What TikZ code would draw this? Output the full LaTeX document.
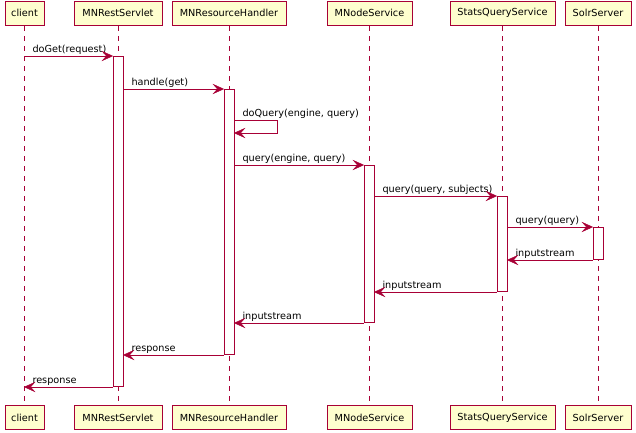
\documentclass[tikz,border=0pt]{standalone}
\usepackage{fontspec}
\setmainfont{DejaVu Sans}
\usetikzlibrary{calc}
\definecolor{pline}{HTML}{A80036}
\definecolor{pfill}{HTML}{FEFECE}
\tikzset{
  pbox/.style={draw=pline, fill=pfill, line width=1pt, minimum height=24.5pt, inner sep=0pt, font=\fontsize{9.7}{11}\selectfont},
  lifeline/.style={draw=pline, line width=1pt, dash pattern=on 5pt off 5pt},
  actbar/.style={draw=pline, fill=white, line width=1pt, minimum width=10pt, inner sep=0pt, anchor=north},
  msg/.style={draw=pline, line width=1pt, shorten >=5pt},
  headstyle/.style={fill=pline, draw=pline, line width=0.5pt, line join=miter},
  lbl/.style={anchor=base west, inner sep=0pt, xshift=7.5pt, yshift=4pt, font=\fontsize{9.7}{11}\selectfont, text=black}
}
\newcommand\myheadR[1]{\filldraw[headstyle] (#1) -- ++(-10,-4.5) -- ++(4,4.5) -- ++(-4,4.5) -- cycle;}
\newcommand\myheadL[1]{\filldraw[headstyle] (#1) -- ++(10,-4.5) -- ++(-4,4.5) -- ++(4,4.5) -- cycle;}
\begin{document}
\begin{tikzpicture}[x=1pt,y=-1pt]
\useasboundingbox (0,0) rectangle (636,432);
% participants top
\node[pbox, minimum width=39pt]  (cT) at (24.5,13.25) {client};
\node[pbox, minimum width=88pt]  (rT) at (118,13.25) {MNRestServlet};
\node[pbox, minimum width=114pt] (hT) at (229,13.25) {MNResourceHandler};
\node[pbox, minimum width=85pt]  (nT) at (369.5,13.25) {MNodeService};
\node[pbox, minimum width=105pt] (sT) at (502.5,13.25) {StatsQueryService};
\node[pbox, minimum width=66pt]  (oT) at (598,13.25) {SolrServer};
% participants bottom
\node[pbox, minimum width=39pt]  (cB) at (24.5,417.5) {client};
\node[pbox, minimum width=88pt]  (rB) at (118,417.5) {MNRestServlet};
\node[pbox, minimum width=114pt] (hB) at (229,417.5) {MNResourceHandler};
\node[pbox, minimum width=85pt]  (nB) at (369.5,417.5) {MNodeService};
\node[pbox, minimum width=105pt] (sB) at (502.5,417.5) {StatsQueryService};
\node[pbox, minimum width=66pt]  (oB) at (598,417.5) {SolrServer};
% lifelines
\draw[lifeline] (cT.south) -- (cB.north);
\draw[lifeline] (rT.south) -- (rB.north);
\draw[lifeline] (hT.south) -- (hB.north);
\draw[lifeline] (nT.south) -- (nB.north);
\draw[lifeline] (sT.south) -- (sB.north);
\draw[lifeline] (oT.south) -- (oB.north);
% activations
\node[actbar, minimum height=330pt] (a1) at (118,56) {};
\node[actbar, minimum height=265pt] (a2) at (229,89) {};
\node[actbar, minimum height=157pt] (a3) at (369,165) {};
\node[actbar, minimum height=95pt]  (a4) at (502,196) {};
\node[actbar, minimum height=32pt]  (a5) at (598,227) {};
% messages
\draw[msg] (cT.south |- a1.north west) node[lbl]{doGet(request)} -- (a1.north west);
\myheadR{a1.north west}
\draw[msg] (a1.east |- a2.north west) node[lbl]{handle(get)} -- (a2.north west);
\myheadR{a2.north west}
\coordinate (sq1) at ($(a2.north east)+(0,31)$);
\coordinate (sq2) at ($(a2.north east)+(0,44)$);
\draw[msg] (sq1) node[lbl]{doQuery(engine, query)} -- ++(43,0) -- ++(0,13) -- (sq2);
\myheadL{sq2}
\draw[msg] (a2.east |- a3.north west) node[lbl]{query(engine, query)} -- (a3.north west);
\myheadR{a3.north west}
\draw[msg] (a3.east |- a4.north west) node[lbl]{query(query, subjects)} -- (a4.north west);
\myheadR{a4.north west}
\draw[msg] (a4.east |- a5.north west) node[lbl]{query(query)} -- (a5.north west);
\myheadR{a5.north west}
\coordinate (r1) at (a4.east |- a5.south west);
\draw[msg] (a5.south west) -- (r1) node[lbl]{inputstream};
\myheadL{r1}
\coordinate (r2) at (a3.east |- a4.south west);
\draw[msg] (a4.south west) -- (r2) node[lbl]{inputstream};
\myheadL{r2}
\coordinate (r3) at (a2.east |- a3.south west);
\draw[msg] (a3.south west) -- (r3) node[lbl]{inputstream};
\myheadL{r3}
\coordinate (r4) at (a1.east |- a2.south west);
\draw[msg] (a2.south west) -- (r4) node[lbl]{response};
\myheadL{r4}
\coordinate (r5) at (cT.south |- a1.south west);
\draw[msg] (a1.south west) -- (r5) node[lbl]{response};
\myheadL{r5}
\end{tikzpicture}
\end{document}
